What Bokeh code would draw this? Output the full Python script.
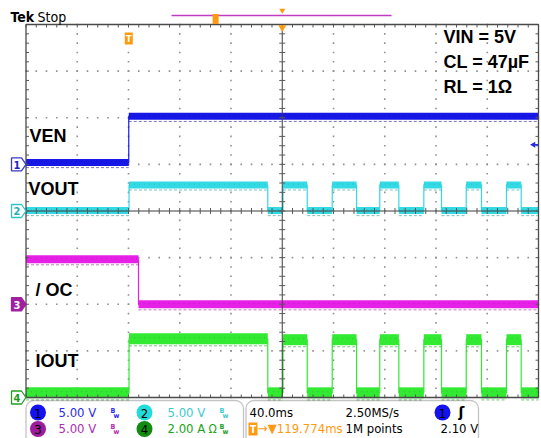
import numpy as np
from bokeh.plotting import figure
from bokeh.models import Label, BoxAnnotation
from bokeh.embed import file_html
from bokeh.resources import INLINE

channel_names = ["VEN", "VOUT", "/ OC", "IOUT"]
channel_numbers = ["1", "2", "3", "4"]
channel_scale = [5.0, 5.0, 5.0, 2.0]               # V/div, V/div, V/div, A/div
channel_scale_text = ["5.00 V", "5.00 V", "5.00 V", "2.00 A"]
channel_offset_div = [1.0, 0.0, -2.0, -4.0]        # ground-marker positions (div)

ms_per_div = 40.0
time_per_div_text = "40.0ms"
sample_rate_text = "2.50MS/s"
record_length_text = "1M points"
trigger_delay_ms = -119.774
trigger_delay_text = "119.774ms"
trigger_level_v = 2.10
trigger_level_text = "2.10 V"
record_view_ms = [-86.4, 85.3]
record_trigger_ms = -52.0

ven_edges_ms = [-119.8]
ven_levels_v = [0.2, 5.15]

vout_edges_ms = [-119.6, -11.3, 0.6, 19.5, 39.0, 58.0, 76.1, 91.0,
                 110.5, 124.3, 143.6, 155.5, 175.0, 186.5]
vout_levels_v = [0.05, 2.8, 0.05, 2.8, 0.05, 2.8, 0.05, 2.8,
                 0.05, 2.8, 0.05, 2.8, 0.05, 2.8, 0.05]

oc_edges_ms = [-112.2]
oc_levels_v = [4.83, 0.0]

iout_edges_ms = [-119.6, -11.3, 0.6, 19.5, 39.0, 58.0, 76.1, 91.0,
                 110.5, 124.3, 143.6, 155.5, 175.0, 186.5]
iout_levels_a = [0.2, 2.52, 0.2, 2.48, 0.2, 2.48, 0.2, 2.48,
                 0.2, 2.48, 0.2, 2.48, 0.2, 2.48, 0.2]

conditions = ["VIN = 5V", "CL = 47µF", "RL = 1Ω"]

waveforms = [(ven_edges_ms, ven_levels_v), (vout_edges_ms, vout_levels_v),
             (oc_edges_ms, oc_levels_v), (iout_edges_ms, iout_levels_a)]

# ---------------- styles / layout ----------------
C_CH = ["#1717e6", "#33d9e3", "#e620e6", "#33ea33"]
C_CH_DARK = ["#0c0c8a", "#178a8f", "#8a128a", "#138a13"]
C_TXT = ["#2b2bee", "#3ccad0", "#b02cb0", "#22a222"]
C_BADGE = ["#1212f2", "#22dcdc", "#9c1c9c", "#148c14"]
ORANGE = "#ff9a10"
NARROW = "DejaVu Sans Condensed, Roboto"
SANS = "Liberation Sans"
BAND_PX = [3.5, 3.5, 4.0, 5.5]
BASELINE_FIX = 0.38   # em; compensates the renderer's alphabetic-baseline offset

W, H = 541, 438
GX0, GX1 = 25.5, 538.0
GY0, GY1 = 24.0, 397.0
NDX, NDY = 10, 8
SX = (GX1 - GX0) / (NDX * ms_per_div)
SY = (GY1 - GY0) / NDY
T0, T1 = -NDX / 2 * ms_per_div, NDX / 2 * ms_per_div
X_START = T0 - GX0 / SX
X_END = X_START + W / SX
Y_END = NDY / 2 + GY0 / SY
Y_START = Y_END - H / SY
DX, DY = 1.0 / SX, 1.0 / SY


def PX(x):
    return X_START + x / SX


def PY(y):
    return Y_END - y / SY


p = figure(width=W, height=H, x_range=(X_START, X_END), y_range=(Y_START, Y_END),
           output_backend="svg", toolbar_location=None, min_border=0,
           x_axis_location=None, y_axis_location=None)
p.min_border_left = p.min_border_right = p.min_border_top = p.min_border_bottom = 0
p.grid.visible = False
p.outline_line_color = None
p.background_fill_color = "white"
p.border_fill_color = "white"


def label(x, y, text, size, color="black", font=NARROW, style="normal",
          align="left", baseline="alphabetic"):
    if baseline == "alphabetic":
        y = y + BASELINE_FIX * size * DY
    p.add_layout(Label(x=x, y=y, text=text, text_font=font,
                       text_font_size=f"{size}px", text_font_style=style,
                       text_color=color, text_align=align, text_baseline=baseline))


# ---------------- graticule ----------------
minor_x = np.round(np.arange(T0, T1 + 0.01, ms_per_div / 5), 3)
minor_y = np.round(np.arange(-NDY / 2, NDY / 2 + 0.001, 0.2), 3)
major_x = [v for v in np.arange(T0 + ms_per_div, T1 - 1, ms_per_div) if abs(v) > 1e-6]
major_y = [v for v in np.arange(-NDY / 2 + 1, NDY / 2 - 0.5, 1.0) if abs(v) > 1e-6]
dot_x, dot_y = [], []
for mx in major_x:
    dot_x += [mx] * len(minor_y)
    dot_y += list(minor_y)
for my in major_y:
    dot_x += list(minor_x)
    dot_y += [my] * len(minor_x)
p.scatter(dot_x, dot_y, marker="square", size=1.6, fill_color="#909090", line_color=None)

tk = 3.0
seg = {"x0": [], "y0": [], "x1": [], "y1": []}
for mx in minor_x:
    for yb, sgn in ((NDY / 2, -1), (-NDY / 2, 1)):
        seg["x0"].append(mx); seg["y0"].append(yb)
        seg["x1"].append(mx); seg["y1"].append(yb + sgn * tk * DY)
    seg["x0"].append(mx); seg["y0"].append(-tk * DY)
    seg["x1"].append(mx); seg["y1"].append(tk * DY)
for my in minor_y:
    for xb, sgn in ((T0, 1), (T1, -1)):
        seg["x0"].append(xb); seg["y0"].append(my)
        seg["x1"].append(xb + sgn * tk * DX); seg["y1"].append(my)
    seg["x0"].append(-tk * DX); seg["y0"].append(my)
    seg["x1"].append(tk * DX); seg["y1"].append(my)

# ---------------- traces ----------------
for i, (edges, levels) in enumerate(waveforms):
    off, sc = channel_offset_div[i], channel_scale[i]
    xs = [T0] + list(edges) + [T1]
    ys = [off + lv / sc for lv in levels]
    ys = ys + [ys[-1]]
    left, right, mid = xs[:-1], xs[1:], ys[:-1]
    hb = BAND_PX[i] * DY
    p.step(xs, ys, mode="after", line_color=C_CH[i], line_width=1.2)
    p.quad(left=left, right=right, bottom=[m - hb for m in mid], top=[m + hb for m in mid],
           fill_color=C_CH[i], line_color=None)
    p.segment(x0=left, x1=right, y0=[m - hb - 1.6 * DY for m in mid], y1=[m - hb - 1.6 * DY for m in mid],
              line_color=C_CH_DARK[i], line_alpha=0.55, line_width=1, line_dash="3 2")
    p.segment(x0=left, x1=right, y0=[m + hb * 0.2 for m in mid], y1=[m + hb * 0.2 for m in mid],
              line_color=C_CH_DARK[i], line_alpha=0.35, line_width=1, line_dash="1 4")

p.segment(x0=[T0, 0], y0=[0, -NDY / 2], x1=[T1, 0], y1=[0, NDY / 2], line_color="#3c3c3c", line_width=1)
p.segment(**seg, line_color="#5a5a5a", line_width=1)
p.quad(left=[T0], right=[T1], bottom=[-NDY / 2], top=[NDY / 2], fill_color=None,
       line_color="#4a4a4a", line_width=1.3)

# ---------------- channel ground markers ----------------
mk_fill = ["white", "white", "#a020a0", "white"]
mk_line = ["#3a3ac8", "#30c4c4", "#a020a0", "#22a022"]
mk_text = ["#2222c0", "#2aaeb0", "white", "#1f9a1f"]
for i in range(4):
    y0 = channel_offset_div[i]
    xs = [PX(11), PX(21), PX(25.5), PX(21), PX(11)]
    ys = [y0 + 6.5 * DY, y0 + 6.5 * DY, y0, y0 - 6.5 * DY, y0 - 6.5 * DY]
    p.patch(xs, ys, fill_color=mk_fill[i], line_color=mk_line[i], line_width=1.3)
    label(PX(16.5), y0 - 0.3 * DY, channel_numbers[i], 11, mk_text[i], style="bold",
          align="center", baseline="middle")

trig_y = channel_offset_div[0] + trigger_level_v / channel_scale[0]
p.segment(x0=[PX(532)], x1=[PX(538)], y0=[trig_y], y1=[trig_y], line_color="#2a2ae0", line_width=1.5)
p.scatter([PX(533)], [trig_y], marker="triangle", angle=np.pi / 2, size=6,
          fill_color="#2a2ae0", line_color=None)

# ---------------- labels inside graticule ----------------
lab_pos = [(29, 142), (28, 195), (35, 296), (35, 367)]
for name, (lx, ly) in zip(channel_names, lab_pos):
    label(PX(lx), PY(ly), name, 18, "black", font=SANS, style="bold")
for txt, ly in zip(conditions, [43, 68, 93]):
    label(PX(443), PY(ly), txt, 18, "black", font=SANS, style="bold")

p.rect([trigger_delay_ms], [PY(38)], width=8, height=12, width_units="screen", height_units="screen",
       fill_color=ORANGE, line_color=None)
label(trigger_delay_ms, PY(38.5), "T", 9, "white", style="bold", align="center", baseline="middle")
p.scatter([0], [PY(27)], marker="inverted_triangle", size=8, fill_color=ORANGE, line_color=None)

# ---------------- top bar ----------------
label(PX(10), PY(22), "Tek", 14, "black", style="bold")
label(PX(37), PY(22), "Stop", 14, "black")
p.segment(x0=[record_view_ms[0]], x1=[record_view_ms[1]], y0=[PY(15)], y1=[PY(15)],
          line_color="#c23cc2", line_width=1.5)
p.rect([record_trigger_ms], [PY(18.5)], width=6, height=10, width_units="screen", height_units="screen",
       fill_color=ORANGE, line_color=None)
p.scatter([0], [PY(10)], marker="inverted_triangle", size=6, fill_color=ORANGE, line_color=None)

# ---------------- bottom info panel ----------------
row_base = [417, 433]
row_mid = [412.0, 428.5]
p.add_layout(BoxAnnotation(left=PX(25.5), right=PX(243), top=PY(400), bottom=PY(460),
                           fill_color=None, line_color="#3a3a3a", line_width=1.3, border_radius=8))
p.add_layout(BoxAnnotation(left=PX(245.5), right=PX(478), top=PY(400), bottom=PY(460),
                           fill_color=None, line_color="#3a3a3a", line_width=1.3, border_radius=8))

badge_pos = [(37.5, 0), (144, 0), (37.5, 1), (144, 1)]
for i, (bx, r) in enumerate(badge_pos):
    p.scatter([PX(bx)], [PY(row_mid[r])], marker="circle", size=16, fill_color=C_BADGE[i], line_color=None)
    label(PX(bx), PY(row_mid[r] + 0.5), channel_numbers[i], 13, "black", align="center", baseline="middle")
    tx = bx + 20.5 if bx < 100 else bx + 23
    label(PX(tx), PY(row_base[r]), channel_scale_text[i], 13, C_TXT[i])
    bwx = 110 if bx < 100 else 219
    if i == 3:
        label(PX(208), PY(row_base[r]), "Ω", 12, C_TXT[i])
        bwx = 219
    label(PX(bwx), PY(row_base[r] - 4), "B", 7, C_TXT[i], style="bold")
    label(PX(bwx + 3), PY(row_base[r] + 1), "w", 7, C_TXT[i], style="bold")

label(PX(249), PY(row_base[0]), time_per_div_text, 13, "black")
label(PX(345), PY(row_base[0]), sample_rate_text, 13, "black")
p.scatter([PX(442)], [PY(row_mid[0])], marker="circle", size=16, fill_color=C_BADGE[0], line_color=None)
label(PX(442), PY(row_mid[0] + 0.5), channel_numbers[0], 13, "black", align="center", baseline="middle")
label(PX(458), PY(row_base[0]), "ʃ", 14, "black", font="DejaVu Sans", style="bold")

p.rect([PX(252.5)], [PY(row_mid[1])], width=9, height=13, width_units="screen", height_units="screen",
       fill_color=ORANGE, line_color=None)
label(PX(252.5), PY(row_mid[1] + 0.5), "T", 10, "white", style="bold", align="center", baseline="middle")
label(PX(257.5), PY(row_base[1]), "→▼" + trigger_delay_text, 13, ORANGE)
label(PX(345), PY(row_base[1]), record_length_text, 13, "black")
label(PX(440), PY(row_base[1]), trigger_level_text, 13, "black")

open("out.html", "w").write(file_html(p, INLINE))
